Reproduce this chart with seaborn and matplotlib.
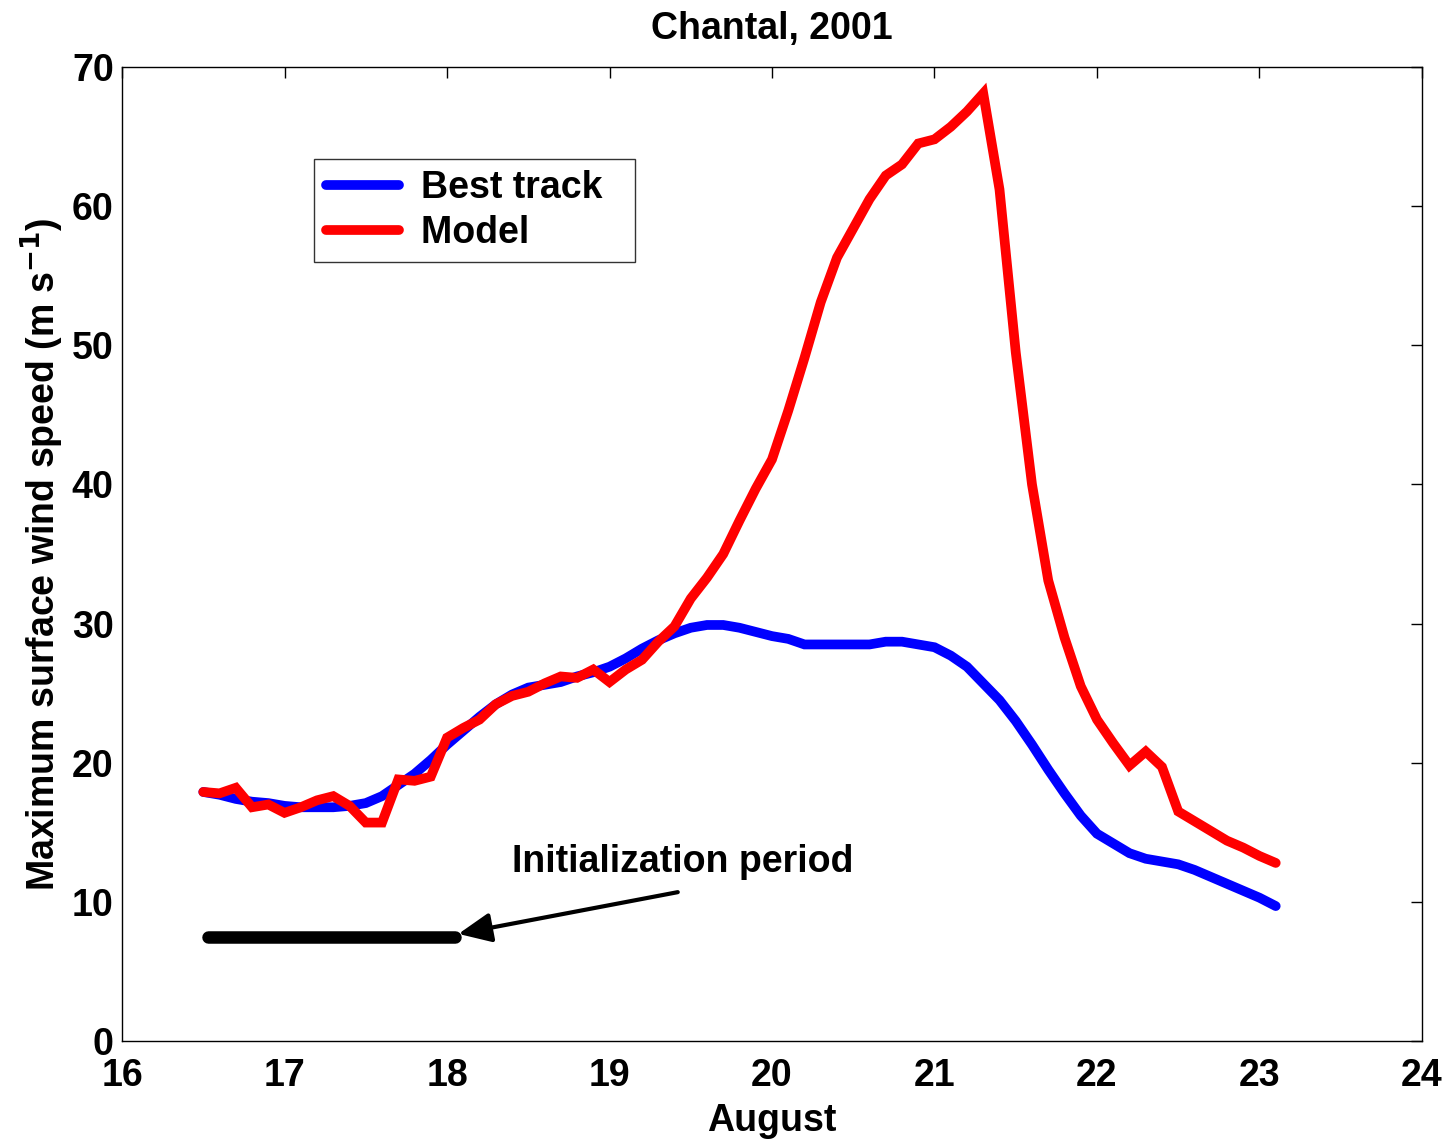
import numpy as np
import pandas as pd
import matplotlib
matplotlib.use("Agg")
import matplotlib.pyplot as plt
import seaborn as sns

days = [16.5, 16.6, 16.7, 16.8, 16.9, 17.0, 17.1, 17.2, 17.3, 17.4, 17.5, 17.6, 17.7, 17.8, 17.9,
        18.0, 18.1, 18.2, 18.3, 18.4, 18.5, 18.6, 18.7, 18.8, 18.9, 19.0, 19.1, 19.2, 19.3, 19.4,
        19.5, 19.6, 19.7, 19.8, 19.9, 20.0, 20.1, 20.2, 20.3, 20.4, 20.5, 20.6, 20.7, 20.8, 20.9,
        21.0, 21.1, 21.2, 21.3, 21.4, 21.5, 21.6, 21.7, 21.8, 21.9, 22.0, 22.1, 22.2, 22.3, 22.4,
        22.5, 22.6, 22.7, 22.8, 22.9, 23.0, 23.1]

best_track = [17.9, 17.7, 17.4, 17.2, 17.1, 16.9, 16.8, 16.8, 16.8, 16.9, 17.1, 17.6, 18.4, 19.2, 20.2,
              21.3, 22.3, 23.3, 24.2, 24.9, 25.4, 25.6, 25.8, 26.2, 26.5, 26.9, 27.5, 28.2, 28.8, 29.3,
              29.7, 29.9, 29.9, 29.7, 29.4, 29.1, 28.9, 28.5, 28.5, 28.5, 28.5, 28.5, 28.7, 28.7, 28.5,
              28.3, 27.7, 26.9, 25.7, 24.5, 23.0, 21.3, 19.5, 17.8, 16.2, 14.9, 14.2, 13.5, 13.1, 12.9,
              12.7, 12.3, 11.8, 11.3, 10.8, 10.3, 9.7]

model = [17.9, 17.8, 18.2, 16.8, 17.0, 16.4, 16.8, 17.3, 17.6, 16.9, 15.7, 15.7, 18.8, 18.7, 19.0,
         21.8, 22.5, 23.1, 24.2, 24.8, 25.1, 25.7, 26.2, 26.1, 26.7, 25.8, 26.7, 27.4, 28.7, 29.8,
         31.8, 33.3, 35.0, 37.4, 39.7, 41.8, 45.3, 49.1, 53.1, 56.3, 58.4, 60.5, 62.2, 63.0, 64.5,
         64.8, 65.7, 66.8, 68.1, 61.2, 49.5, 40.0, 33.1, 29.0, 25.5, 23.1, 21.4, 19.8, 20.8, 19.7,
         16.5, 15.8, 15.1, 14.4, 13.9, 13.3, 12.8]

init_x = [16.53, 18.05]
init_y = [7.5, 7.5]

x_ticks = [16, 17, 18, 19, 20, 21, 22, 23, 24]
y_ticks = [0, 10, 20, 30, 40, 50, 60, 70]

df = pd.DataFrame({
    "day": days * 2,
    "speed": best_track + model,
    "series": ["Best track"] * len(days) + ["Model"] * len(days),
})

sns.set_style("white")
plt.rcParams["font.family"] = ["Liberation Sans", "DejaVu Sans"]
plt.rcParams["font.weight"] = "bold"
plt.rcParams["text.color"] = "black"
plt.rcParams["axes.labelcolor"] = "black"
plt.rcParams["xtick.color"] = "black"
plt.rcParams["ytick.color"] = "black"
plt.rcParams["mathtext.default"] = "bf"

FS = 27

fig = plt.figure(figsize=(14.51, 11.39), dpi=100)
ax = fig.add_axes([0.0841, 0.0860, 0.980 - 0.0841, 0.9412 - 0.0860])

sns.lineplot(data=df, x="day", y="speed", hue="series",
             palette={"Best track": "#0000ff", "Model": "#ff0000"},
             linewidth=7, ax=ax, sort=False, estimator=None)
for ln in ax.get_lines():
    ln.set_solid_capstyle("round")
    ln.set_solid_joinstyle("miter")

ax.plot(init_x, init_y, color="black", linewidth=9, solid_capstyle="round")
ax.annotate("", xy=(18.07, 7.7), xytext=(19.42, 10.7),
            arrowprops=dict(arrowstyle="-|>,head_length=1.0,head_width=0.45",
                            mutation_scale=20, color="black", lw=3,
                            shrinkA=0, shrinkB=0))
ax.text(19.45, 12.9, "Initialization period", fontsize=FS, fontweight="bold",
        ha="center", va="center", color="black")

ax.set_xlim(16, 24)
ax.set_ylim(0, 70)
ax.set_xticks(x_ticks)
ax.set_yticks(y_ticks)
ax.set_xticklabels([str(t) for t in x_ticks], fontsize=FS, fontweight="bold")
ax.set_yticklabels([str(t) for t in y_ticks], fontsize=FS, fontweight="bold")
ax.tick_params(direction="in", length=8, width=1, top=True, right=True, colors="black")
ax.tick_params(axis="x", pad=12)
ax.tick_params(axis="y", pad=6)
for s in ax.spines.values():
    s.set_visible(True)
    s.set_color("black")
    s.set_linewidth(1)

ax.set_xlabel("August", fontsize=FS, fontweight="bold", labelpad=7)
ax.set_ylabel("Maximum surface wind speed (m s$^{\\mathbf{-1}}$)", fontsize=FS,
              fontweight="bold", labelpad=4)
ax.set_title("Chantal, 2001", fontsize=FS, fontweight="bold", pad=20, color="black")

handles, labels = ax.get_legend_handles_labels()
leg = ax.legend(handles, [lb + "  " for lb in labels],
                loc="upper left", bbox_to_anchor=(0.148, 0.906), fontsize=FS,
                frameon=True, fancybox=False, edgecolor="black", handlelength=1.95,
                borderpad=0.3, labelspacing=0.25, handletextpad=0.6, borderaxespad=0)
leg.get_frame().set_linewidth(1)
for t in leg.get_texts():
    t.set_fontweight("bold")
    t.set_color("black")
for h in leg.get_lines():
    h.set_linewidth(7)

fig.savefig("out.png", dpi=100, facecolor="white")
